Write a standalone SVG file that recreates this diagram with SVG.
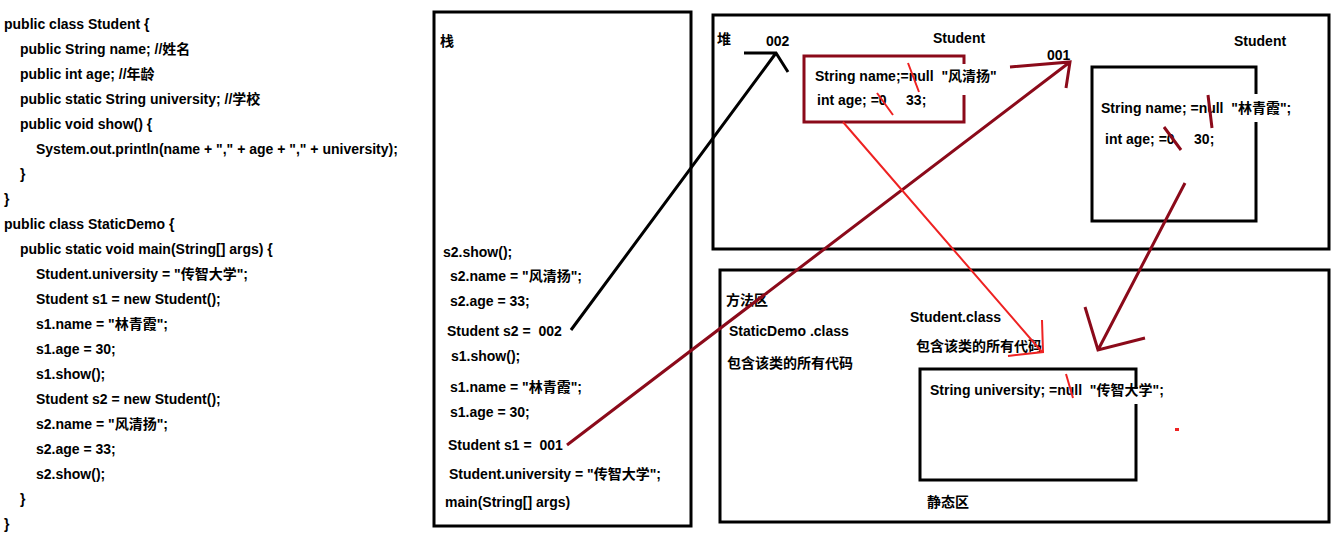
<svg xmlns="http://www.w3.org/2000/svg" width="1337" height="535" viewBox="0 0 1337 535" xml:space="preserve">
<style>
text{font-family:"Liberation Sans","Noto Sans CJK SC",sans-serif;font-size:14px;font-weight:bold;fill:#000;white-space:pre}
.b{fill:none;stroke:#000;stroke-width:3}
.dr{fill:none;stroke:#8b0a1a;stroke-width:3}
.r{fill:none;stroke:#ee2222;stroke-width:2}
</style>
<rect width="1337" height="535" fill="#fff"/>
<g id="code">
<text x="4" y="29">public class Student {</text>
<text x="20" y="54">public String name; //姓名</text>
<text x="20" y="79">public int age; //年龄</text>
<text x="20" y="104">public static String university; //学校</text>
<text x="20" y="129">public void show() {</text>
<text x="36" y="154">System.out.println(name + "," + age + "," + university);</text>
<text x="20" y="179">}</text>
<text x="4" y="204">}</text>
<text x="4" y="229">public class StaticDemo {</text>
<text x="20" y="254">public static void main(String[] args) {</text>
<text x="36" y="279">Student.university = "传智大学";</text>
<text x="36" y="304">Student s1 = new Student();</text>
<text x="36" y="329">s1.name = "林青霞";</text>
<text x="36" y="354">s1.age = 30;</text>
<text x="36" y="379">s1.show();</text>
<text x="36" y="404">Student s2 = new Student();</text>
<text x="36" y="429">s2.name = "风清扬";</text>
<text x="36" y="454">s2.age = 33;</text>
<text x="36" y="479">s2.show();</text>
<text x="20" y="504">}</text>
<text x="4" y="529">}</text>
</g>
<g id="stack">
<rect class="b" x="434" y="12" width="257" height="514"/>
<text x="440" y="46">栈</text>
<text x="443" y="257">s2.show();</text>
<text x="450" y="281">s2.name = "风清扬";</text>
<text x="450" y="306">s2.age = 33;</text>
<text x="447" y="336">Student s2 =  002</text>
<text x="451" y="361">s1.show();</text>
<text x="450" y="392">s1.name = "林青霞";</text>
<text x="450" y="417">s1.age = 30;</text>
<text x="448" y="450">Student s1 =  001</text>
<text x="449" y="479">Student.university = "传智大学";</text>
<text x="445" y="507">main(String[] args)</text>
</g>
<g id="heap">
<rect class="b" x="713" y="15" width="616" height="234"/>
<text x="717" y="44">堆</text>
<text x="766" y="46">002</text>
<text x="933" y="43">Student</text>
<text x="1047" y="60">001</text>
<text x="1234" y="46">Student</text>
</g>
<g id="s2obj">
<path class="dr" d="M964,64 V56 H804 V122 H964 V95"/>
<text x="815" y="81">String name;=null  "风清扬"</text>
<text x="817" y="105">int age; =0     33;</text>
</g>
<g id="s1obj">
<path class="b" d="M1256,94 V67 H1092 V221 H1256 V122"/>
<text x="1101" y="113">String name; =null  "林青霞";</text>
<text x="1105" y="144">int age; =0     30;</text>
</g>
<g id="method">
<rect class="b" x="720" y="270" width="609" height="252"/>
<text x="726" y="305">方法区</text>
<text x="729" y="336">StaticDemo .class</text>
<text x="727" y="368">包含该类的所有代码</text>
<text x="910" y="322">Student.class</text>
<text x="916" y="351">包含该类的所有代码</text>
<text x="927" y="507">静态区</text>
</g>
<g id="static">
<path class="b" d="M1136,389 V369 H920 V480 H1136 V404"/>
<text x="930" y="395">String university; =null  "传智大学";</text>
</g>
<g id="connectors">
<path d="M571,330 L776,53 M744,53 H776 L788,72" fill="none" stroke="#000" stroke-width="3"/>
<path class="dr" d="M567,445 L1070,62 M1010,67 L1070,62 L1066,88"/>
<path class="r" d="M843,122 L1042,352 M1042,320 L1043,352 L1008,356" stroke-width="3"/>
<path class="dr" d="M1185,183 L1098,350 M1085,307 L1098,350 L1145,338"/>
<path class="r" d="M877,93 L893,115 M908,63 L919,92 M1066,374 L1073,398"/>
<path class="dr" d="M1208,95 L1212,128 M1164,127 L1181,150" stroke-width="2"/>
<rect x="1175" y="428" width="4" height="3" fill="#ee2222"/>
</g>
</svg>
